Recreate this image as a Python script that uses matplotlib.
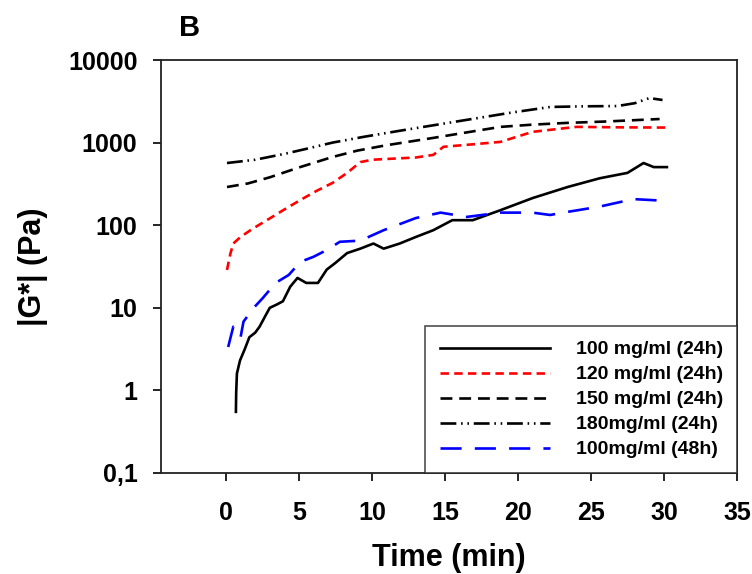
import matplotlib
matplotlib.use("Agg")
import matplotlib.pyplot as plt
from matplotlib.ticker import FixedLocator, NullLocator

# Time (min) and |G*| (Pa) for each formulation
t_100_24 = [0.68, 0.70, 0.75, 0.96, 1.3, 1.6, 2.0, 2.3, 2.7, 3.0, 3.5, 3.9, 4.4, 4.9,
            5.5, 6.3, 6.9, 7.5, 8.3, 9.2, 10.1, 10.8, 11.9, 13.0, 14.2, 15.5, 16.9,
            18.8, 21.0, 23.4, 25.6, 27.5, 28.6, 29.3, 30.2]
g_100_24 = [0.55, 0.95, 1.6, 2.3, 3.2, 4.4, 5.0, 5.9, 8.0, 10, 11, 12, 18, 23,
            20, 20, 29, 35, 46, 52, 60, 52, 60, 72, 87, 115, 115,
            152, 213, 290, 370, 430, 566, 505, 505]

t_120_24 = [0.07, 0.3, 0.5, 1.0, 1.8, 2.8, 4.0, 5.1, 6.2, 7.3, 8.3, 9.2, 10.0,
            11.5, 13.0, 14.2, 14.9, 16.5, 18.8, 21.0, 24.0, 27.0, 30.2]
g_120_24 = [28.7, 45, 60, 72, 90, 115, 155, 202, 260, 325, 430, 580, 620,
            640, 660, 710, 890, 940, 1020, 1350, 1550, 1530, 1520]

t_150_24 = [0.07, 1.5, 3.0, 5.0, 7.3, 9.0, 11.0, 14.2, 16.5, 18.8, 21.0, 23.3,
            26.0, 29.7]
g_150_24 = [290, 320, 380, 500, 670, 800, 930, 1140, 1330, 1550, 1650, 1730,
            1800, 1930]

t_180_24 = [0.07, 2.0, 4.0, 5.5, 7.3, 9.5, 12.0, 14.2, 17.0, 19.5, 22.2, 24.5,
            26.8, 28.0, 29.0, 29.9]
g_180_24 = [566, 620, 730, 840, 1000, 1180, 1400, 1620, 1950, 2300, 2700, 2750,
            2770, 3000, 3460, 3280]

t_100_48 = [0.15, 0.5, 1.0, 1.2, 1.9, 2.5, 3.4, 4.3, 5.1, 6.0, 6.9, 7.8, 9.2,
            10.8, 13.0, 14.7, 16.5, 18.8, 21.0, 22.2, 23.4, 25.6, 27.9, 29.5]
g_100_48 = [3.35, 5.9, 4.4, 6.8, 10, 13, 20, 25, 36, 41.5, 50, 63, 65,
            87, 122, 142, 126, 142, 142, 133, 145, 168, 207, 200]

labels = ["100 mg/ml (24h)", "120 mg/ml (24h)", "150 mg/ml (24h)",
          "180mg/ml (24h)", "100mg/ml (48h)"]

y_ticks = [0.1, 1, 10, 100, 1000, 10000]
y_tick_labels = ["0,1", "1", "10", "100", "1000", "10000"]
x_ticks = [0, 5, 10, 15, 20, 25, 30, 35]

plt.rcParams["font.family"] = ["Liberation Sans", "DejaVu Sans"]

fig = plt.figure(figsize=(7.52, 5.74), dpi=100)
ax = fig.add_axes([161 / 752, 1 - 473 / 574, 576 / 752, 413 / 574])

lw = 1.9
ax.plot(t_100_24, g_100_24, color="black", lw=lw, ls="-", label=labels[0])
ax.plot(t_120_24, g_120_24, color="red", lw=lw, ls=(0, (3.2, 2.0)), label=labels[1])
ax.plot(t_150_24, g_150_24, color="black", lw=lw, ls=(0, (4.5, 2.6)), label=labels[2])
ax.plot(t_180_24, g_180_24, color="black", lw=lw,
        ls=(0, (6, 1.8, 0.6, 1.8, 0.6, 1.8)), label=labels[3])
ax.plot(t_100_48, g_100_48, color="blue", lw=lw, ls=(0, (8, 5)), label=labels[4])

ax.set_yscale("log")
ax.set_xlim(-4.45, 35)
ax.set_ylim(0.1, 10000)

ax.yaxis.set_major_locator(FixedLocator(y_ticks))
ax.set_yticklabels(y_tick_labels)
ax.yaxis.set_minor_locator(NullLocator())
ax.set_xticks(x_ticks)

ax.tick_params(axis="both", which="major", direction="out", length=6, width=1.2,
               labelsize=18, top=False, right=False)
ax.tick_params(axis="x", pad=14)
ax.tick_params(axis="y", pad=11)
for lab in ax.get_xticklabels() + ax.get_yticklabels():
    lab.set_fontweight("bold")

for sp in ax.spines.values():
    sp.set_linewidth(1.3)
    sp.set_color("#222222")

ax.set_xlabel("Time (min)", fontsize=22, fontweight="bold", labelpad=13)
ax.set_ylabel("|G*| (Pa)", fontsize=22, fontweight="bold", labelpad=14)

fig.text(190 / 752, 1 - 28 / 574, "B", fontsize=21, fontweight="bold",
         ha="center", va="center")

# legend box spans the lower-right corner of the plot area
leg_left = (425 - 161) / 576
leg = ax.legend(loc="lower left", bbox_to_anchor=(leg_left, 0.0, 1.0 - leg_left, 0.3),
                mode="expand", borderaxespad=0,
                frameon=True, fancybox=False, handlelength=5.7, handletextpad=1.3,
                labelspacing=0.38, borderpad=0.75,
                prop={"size": 14, "weight": "bold"})
leg.get_frame().set_edgecolor("#222222")
leg.get_frame().set_linewidth(1.2)

fig.savefig("out.png", dpi=100)
